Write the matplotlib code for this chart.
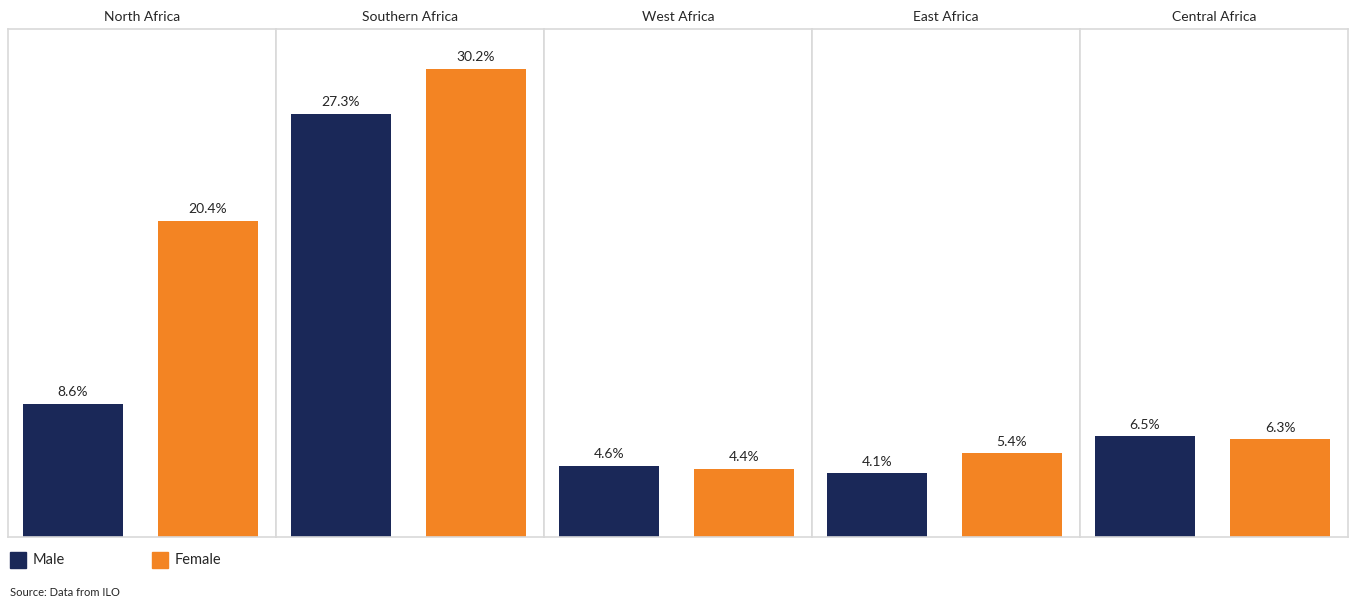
import matplotlib
matplotlib.use("Agg")
import matplotlib.pyplot as plt
from matplotlib.patches import Rectangle

regions = ["North Africa", "Southern Africa", "West Africa", "East Africa", "Central Africa"]
male = [8.6, 27.3, 4.6, 4.1, 6.5]
female = [20.4, 30.2, 4.4, 5.4, 6.3]
series_names = ["Male", "Female"]

NAVY = "#1A2858"
ORANGE = "#F38423"
GRID = "#D9D9D9"
TEXT = "#262626"

plt.rcParams['font.family'] = ['Lato', 'DejaVu Sans']

W, H = 1349, 601
fig = plt.figure(figsize=(W / 100, H / 100), dpi=100)

left, right = 8 / W, 1348 / W
bottom, top = 1 - 537 / H, 1 - 29 / H
pw = (right - left) / len(regions)

for i, reg in enumerate(regions):
    ax = fig.add_axes([left + i * pw, bottom, pw, top - bottom])
    vals = [male[i], female[i]]
    cols = [NAVY, ORANGE]
    ax.bar([0, 1], vals, width=0.74, color=cols, zorder=2)
    for x, v in zip([0, 1], vals):
        ax.text(x, v + 0.35, f"{v:.1f}%", ha="center", va="bottom",
                fontsize=10, color=TEXT)
    ax.set_xlim(-65 / 135, 1 + 68 / 135)
    ax.set_ylim(0, 508 / 15.5)
    ax.set_xticks([])
    ax.set_yticks([])
    for s in ax.spines.values():
        s.set_color(GRID)
        s.set_linewidth(1.2)
    ax.set_title(reg, fontsize=10, color=TEXT, pad=6)

# legend
sq = 16
for j, (name, c, x0) in enumerate(zip(series_names, [NAVY, ORANGE], [10, 152])):
    fig.patches.append(Rectangle((x0 / W, 1 - 568 / H), sq / W, sq / H,
                                 transform=fig.transFigure, color=c))
    fig.text((x0 + 23) / W, 1 - 560 / H, name, fontsize=10.5, color=TEXT, va="center")

fig.text(10 / W, 1 - 593 / H, "Source: Data from ILO", fontsize=8, color=TEXT, va="center")

fig.savefig("out.png", dpi=100)
